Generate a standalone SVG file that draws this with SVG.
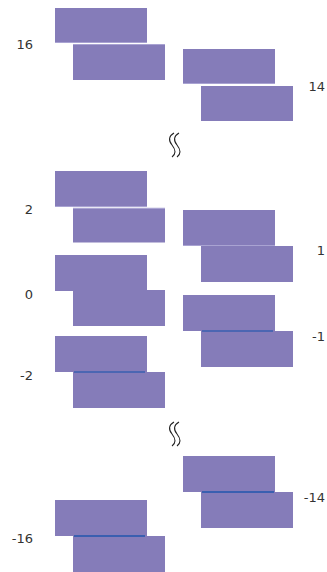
<svg xmlns="http://www.w3.org/2000/svg" width="327" height="572" viewBox="0 0 327 572">
<style>
.b{fill:#857cb9}
.hl{stroke:#a9a3d2;stroke-width:1.2}
.ln{stroke:#3a5fb0;stroke-width:1.5}
.ln2{stroke:#3a5fb0;stroke-width:2}
.t{font-family:"DejaVu Sans",sans-serif;font-size:13px;fill:#333}
.l{text-anchor:end}
.sq{fill:none;stroke:#222;stroke-width:1.1}
</style>
<rect width="327" height="572" fill="#fff"/>
<g id="row16">
<rect class="b" x="55" y="8" width="92" height="34"/>
<line class="hl" x1="55" y1="42.5" x2="147" y2="42.5"/>
<rect class="b" x="73" y="45" width="92" height="35"/>
<line class="hl" x1="73" y1="44.5" x2="165" y2="44.5"/>
<text class="t l" x="33" y="49">16</text>
</g>
<g id="row14">
<rect class="b" x="183" y="49" width="92" height="34"/>
<line class="hl" x1="183" y1="83.5" x2="275" y2="83.5"/>
<rect class="b" x="201" y="86" width="92" height="35"/>
<text class="t l" x="325" y="91">14</text>
</g>
<g id="break1">
<path class="sq" d="M174,133 C169,136 168,140 172,145 C176,150 176,154 172,157"/>
<path class="sq" d="M179,133 C174,136 173,140 177,145 C181,150 181,154 177,157"/>
</g>
<g id="row2">
<rect class="b" x="55" y="171" width="92" height="35"/>
<line class="hl" x1="55" y1="206.5" x2="147" y2="206.5"/>
<rect class="b" x="73" y="208.5" width="92" height="34"/>
<line class="hl" x1="73" y1="208.3" x2="165" y2="208.3"/>
<text class="t l" x="33" y="214">2</text>
</g>
<g id="row1">
<rect class="b" x="183" y="210" width="92" height="35"/>
<line class="hl" x1="183" y1="245.5" x2="275" y2="245.5"/>
<rect class="b" x="201" y="246" width="92" height="36"/>
<text class="t l" x="325" y="255">1</text>
</g>
<g id="row0">
<rect class="b" x="55" y="255" width="92" height="36"/>
<rect class="b" x="73" y="290" width="92" height="36"/>
<text class="t l" x="33" y="299">0</text>
</g>
<g id="rowm1">
<rect class="b" x="183" y="295" width="92" height="36"/>
<rect class="b" x="201" y="331" width="92" height="36"/>
<line class="ln" x1="202" y1="331" x2="273" y2="331"/>
<text class="t l" x="325" y="341">-1</text>
</g>
<g id="rowm2">
<rect class="b" x="55" y="336" width="92" height="36"/>
<rect class="b" x="73" y="372" width="92" height="36"/>
<line class="ln" x1="74" y1="372" x2="145" y2="372"/>
<text class="t l" x="33" y="380">-2</text>
</g>
<g id="break2">
<path class="sq" d="M174,422 C169,425 168,429 172,434 C176,439 176,443 172,446"/>
<path class="sq" d="M179,422 C174,425 173,429 177,434 C181,439 181,443 177,446"/>
</g>
<g id="rowm14">
<rect class="b" x="183" y="456" width="92" height="36"/>
<rect class="b" x="201" y="492" width="92" height="36"/>
<line class="ln2" x1="202" y1="492" x2="274" y2="492"/>
<text class="t l" x="325" y="502">-14</text>
</g>
<g id="rowm16">
<rect class="b" x="55" y="500" width="92" height="36"/>
<rect class="b" x="73" y="536" width="92" height="36"/>
<line class="ln2" x1="74" y1="536" x2="145" y2="536"/>
<text class="t l" x="33" y="543">-16</text>
</g>
<g id="connectors"/>
</svg>
